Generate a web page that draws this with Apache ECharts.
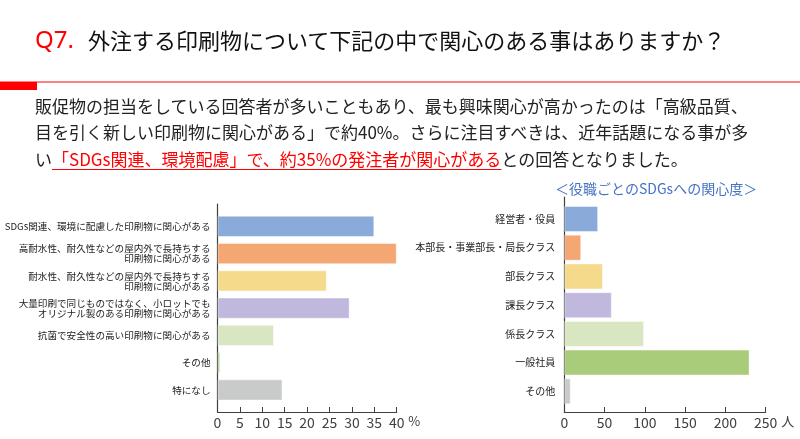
<!DOCTYPE html>
<html><head><meta charset="utf-8">
<script src="https://cdn.jsdelivr.net/npm/echarts@6/dist/echarts.min.js"></script>
<style>
html,body{margin:0;padding:0;background:#fff;}
#wrap{position:relative;width:800px;height:439px;overflow:hidden;font-family:"Noto Sans CJK JP",sans-serif;}
#chart{position:absolute;left:0;top:0;width:800px;height:439px;}
.t{position:absolute;white-space:nowrap;z-index:2;}
.p{font-size:17px;line-height:26px;color:#222;left:35px;}
.red{color:#ff0000;text-decoration:underline;text-decoration-color:#ff0000;text-underline-offset:3px;text-decoration-thickness:1px;}
</style></head><body>
<div id="wrap">
<div id="chart"></div>
<div class="t" style="left:35px;top:24px;font-size:24px;line-height:30px;color:#ff0000;font-family:'Noto Sans','Noto Sans CJK JP',sans-serif;">Q7.</div>
<div class="t" style="left:88px;top:24px;font-size:22px;line-height:30px;color:#111;">外注する印刷物について下記の中で関心のある事はありますか？</div>
<div class="t" style="left:0;top:81px;width:800px;height:1.5px;background:#ff8080;"></div>
<div class="t" style="left:0;top:82px;width:37px;height:8px;background:#ff0000;"></div>
<div class="t p" style="top:92.5px;">販促物の担当をしている回答者が多いこともあり、最も興味関心が高かったのは「高級品質、</div>
<div class="t p" style="top:119px;">目を引く新しい印刷物に関心がある」で約40%。さらに注目すべきは、近年話題になる事が多</div>
<div class="t p" style="top:145.5px;">い<span class="red">「SDGs関連、環境配慮」で、約35%の発注者が関心がある</span>との回答となりました。</div>
</div>
<script>
// ---- data ----
const leftCategories = [
  'SDGs関連、環境に配慮した印刷物に関心がある',
  '高耐水性、耐久性などの屋内外で長持ちする\n印刷物に関心がある',
  '耐水性、耐久性などの屋内外で長持ちする\n印刷物に関心がある',
  '大量印刷で同じものではなく、小ロットでも\nオリジナル製のある印刷物に関心がある',
  '抗菌で安全性の高い印刷物に関心がある',
  'その他',
  '特になし'
];
const leftValues = [35, 40, 24.4, 29.5, 12.6, 0.6, 14.5];
const leftAxisMax = 40;
const leftAxisStep = 5;
const leftUnit = '%';

const rightTitle = '＜役職ごとのSDGsへの関心度＞';
const rightCategories = ['経営者・役員', '本部長・事業部長・局長クラス', '部長クラス', '課長クラス', '係長クラス', '一般社員', 'その他'];
const rightValues = [42, 21, 48, 59, 99, 230, 8];
const rightAxisMax = 250;
const rightAxisStep = 50;
const rightUnit = '人';

// ---- styles ----
const leftColors = ['#8aaad9', '#f4a673', '#f6da8c', '#c1b9dd', '#d9e6c2', '#a8d08d', '#c9caca'];
const rightColors = ['#8aaad9', '#f4a673', '#f6da8c', '#c1b9dd', '#d9e6c2', '#a9cc7b', '#c9caca'];
const FONT = '"Noto Sans CJK JP", sans-serif';
const AX = '#404040';

const chart = echarts.init(document.getElementById('chart'), null, {renderer: 'canvas'});

function barData(vals, colors) {
  return vals.map((v, i) => ({value: v, itemStyle: {color: colors[i]}}));
}

const option = {
  backgroundColor: '#fff',
  animation: false,
  title: {
    text: rightTitle, left: 555, top: 182, padding: 0,
    textStyle: {fontSize: 14, fontWeight: 'normal', color: '#4472c4', fontFamily: FONT}
  },
  grid: [
    {left: 217.5, right: 403.3, top: 212.7, bottom: 35.4},
    {left: 217.5, right: 403.3, top: 204, bottom: 27},
    {left: 564.3, right: 34.3, top: 204.6, bottom: 33.3},
    {left: 564.3, right: 34.3, top: 197, bottom: 27}
  ],
  xAxis: [
    {gridIndex: 0, type: 'value', min: 0, max: leftAxisMax, show: false},
    {gridIndex: 1, type: 'value', min: 0, max: leftAxisMax, interval: leftAxisStep,
     name: leftUnit, nameLocation: 'end', nameGap: 7,
     nameTextStyle: {fontSize: 13, color: AX, fontFamily: FONT, verticalAlign: 'top', padding: [3, 0, 0, 0]},
     axisLine: {show: true, lineStyle: {color: AX, width: 1.2}},
     axisTick: {show: true, inside: true, length: 5, lineStyle: {color: AX}},
     axisLabel: {fontSize: 14, color: AX, fontFamily: FONT, margin: 4},
     splitLine: {show: false}},
    {gridIndex: 2, type: 'value', min: 0, max: rightAxisMax, show: false},
    {gridIndex: 3, type: 'value', min: 0, max: rightAxisMax, interval: rightAxisStep,
     name: rightUnit, nameLocation: 'end', nameGap: 12,
     nameTextStyle: {fontSize: 13, color: AX, fontFamily: FONT, verticalAlign: 'top', padding: [3, 0, 0, 0]},
     axisLine: {show: true, lineStyle: {color: AX, width: 1.2}},
     axisTick: {show: true, inside: true, length: 5, lineStyle: {color: AX}},
     axisLabel: {fontSize: 14, color: AX, fontFamily: FONT, margin: 4},
     splitLine: {show: false}}
  ],
  yAxis: [
    {gridIndex: 0, type: 'category', data: leftCategories, inverse: true,
     axisLine: {show: false}, axisTick: {show: false},
     axisLabel: {fontSize: 9.6, lineHeight: 10, color: '#222', fontFamily: FONT, margin: 7, align: 'right'}},
    {gridIndex: 1, type: 'value', min: 0, max: 1,
     axisLine: {show: true, lineStyle: {color: AX, width: 1.2}},
     axisTick: {show: false}, axisLabel: {show: false}, splitLine: {show: false}},
    {gridIndex: 2, type: 'category', data: rightCategories, inverse: true,
     axisLine: {show: false}, axisTick: {show: false},
     axisLabel: {fontSize: 10, lineHeight: 10, color: '#222', fontFamily: FONT, margin: 9, align: 'right'}},
    {gridIndex: 3, type: 'value', min: 0, max: 1,
     axisLine: {show: true, lineStyle: {color: AX, width: 1.2}},
     axisTick: {show: false}, axisLabel: {show: false}, splitLine: {show: false}}
  ],
  series: [
    {type: 'bar', xAxisIndex: 0, yAxisIndex: 0, data: barData(leftValues, leftColors),
     barCategoryGap: '22%', itemStyle: {borderColor: 'rgba(255,255,255,0.45)', borderWidth: 1}, silent: true},
    {type: 'bar', xAxisIndex: 2, yAxisIndex: 2, data: barData(rightValues, rightColors),
     barCategoryGap: '9.5%', itemStyle: {borderColor: 'rgba(255,255,255,0.45)', borderWidth: 1}, silent: true}
  ]
};
chart.setOption(option);
</script>
</body></html>
